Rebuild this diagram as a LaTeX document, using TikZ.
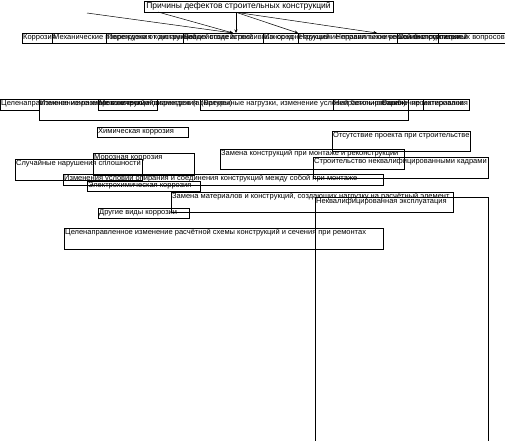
\documentclass[tikz,border=0pt]{standalone}
\usepackage{fontspec}
\setmainfont{Liberation Sans}
\usetikzlibrary{arrows.meta, positioning, calc}

\begin{document}
\begin{tikzpicture}[
			x=1pt, y=-1pt,
			cell/.style={draw, anchor=north west, inner sep=0pt, outer sep=0pt, line width=0.5pt, minimum height=10pt},
			txt/.style={anchor=north west, inner sep=1pt, label distance=0pt, font=\fontsize{7.5}{9}\selectfont},
			txtr/.style={anchor=north east, inner sep=1pt, label distance=0pt, font=\fontsize{7.5}{9}\selectfont},
			arrow/.style={-{Stealth[length=3.5pt, width=3pt]}, line width=0.5pt}
		]
		\useasboundingbox (0,0) rectangle (505,440);
		% title
		\node[draw, line width=0.6pt, inner sep=1pt, minimum width=189pt, minimum height=11pt, font=\fontsize{8.5}{10}\selectfont] (title) at (238.5,6.5) {Причины дефектов строительных конструкций};
		
		% first row
		\node[cell, minimum width=30pt, label={[txt]north west:Коррозия}] (corr) at (22,33) {};
		\node[cell, minimum width=54pt, label={[txt]north west:Механические повреждения конструкций}] (mech) at (52,33) {};
		\node[cell, minimum width=77pt, label={[txt]north west:Перегрузка от динамических воздействий}] (load) at (106,33) {};
		\node[cell, minimum width=80pt, label={[txt]north west:Воздействие агрессивных сред}] (env) at (183,33) {};
		\node[cell, minimum width=35pt, label={[txt]north west:Износ конструкций}] (wear) at (263,33) {};
		\node[cell, minimum width=99pt, label={[txt]north west:Нарушение правил технической эксплуатации}] (rules) at (298,33) {};
		\node[cell, minimum width=41pt, label={[txt]north west:Ошибки строителей}] (build) at (397,33) {};
		\node[cell, minimum width=68pt, label={[txtr]north east:Неправильное решение строительных вопросов}] (issues) at (438,33) {};
		
		% second row
		\node[cell, minimum width=39pt, minimum height=11pt, label={[txt]north west:Целенаправленное изменение конструкций}] (aim) at (0,99) {};
		\node[cell, minimum width=369pt, minimum height=21pt, label={[txt]north west:Изменение размеров сечений и диаметров (арматуры)}] (sect) at (39,99) {};
		\node[cell, minimum width=59pt, minimum height=11pt, label={[txt]north west:Механические повреждения}] (dmg) at (98,99) {};
		\node[cell, minimum width=133pt, minimum height=11pt, label={[txt]north west:{(Временные нагрузки, изменение условий бетонирования)}}] (temp) at (200,99) {};
		\node[cell, minimum width=90pt, minimum height=11pt, label={[txt]north west:Неправильное хранение материалов}] (store) at (333,99) {};
		\node[cell, minimum width=46pt, minimum height=11pt, label={[txtr]north east:Ошибки проектирования}] (design) at (423,99) {};
		
		% lower blocks
		\node[cell, minimum width=91pt, label={[txt]north west:Химическая коррозия}] (chem) at (97,127) {};
		\node[cell, minimum width=138pt, minimum height=20pt, label={[txt]north west:Отсутствие проекта при строительстве}] (noproj) at (332,131) {};
		\node[cell, minimum width=184pt, minimum height=20pt, label={[txt]north west:Замена конструкций при монтаже и реконструкции}] (swap) at (220,149) {};
		\node[cell, minimum width=101pt, minimum height=22pt, label={[txt]north west:Морозная коррозия}] (frost) at (93,153) {};
		\node[cell, minimum width=127pt, minimum height=21pt, label={[txt]north west:Случайные нарушения сплошности}] (crack) at (15,159) {};
		\node[cell, minimum width=175pt, minimum height=21pt, label={[txt]north west:Строительство неквалифицированными кадрами}] (staff) at (313,157) {};
		\node[cell, minimum width=320pt, minimum height=11pt, label={[txt]north west:Изменения условий опирания и соединения конструкций между собой при монтаже}] (support) at (63,174) {};
		\node[cell, minimum width=113pt, label={[txt]north west:Электрохимическая коррозия}] (electro) at (87,181) {};
		\node[cell, minimum width=282pt, minimum height=20pt, label={[txt]north west:{Замена материалов и конструкций, создающих нагрузку на расчётный элемент}}] (mater) at (171,192) {};
		\node[cell, minimum width=173pt, minimum height=260pt, label={[txt]north west:Неквалифицированная эксплуатация}] (oper) at (315,197) {};
		\node[cell, minimum width=91pt, label={[txt]north west:Другие виды коррозии}] (other) at (98,208) {};
		\node[cell, minimum width=319pt, minimum height=21pt, label={[txt]north west:Целенаправленное изменение расчётной схемы конструкций и сечения при ремонтах}] (scheme) at (64,228) {};
		
		% arrows from the title
		\coordinate (hub) at ([xshift=-2.5pt]title.south);
		\coordinate (free) at (87,13);
		\coordinate (left) at (158,12);
		\coordinate (t1) at (233,33);
		\coordinate (t2) at (hub |- corr.north);
		\coordinate (t3) at (298,33);
		\coordinate (t4) at (377,33);
		\draw[arrow] (free) -- (t1);
		\draw[arrow] (left) -- (t1);
		\draw[arrow] (hub) -- (t2);
		\draw[arrow] (hub) -- (t3);
		\draw[arrow] (hub) -- (t4);
		\end{tikzpicture}
\end{document}
